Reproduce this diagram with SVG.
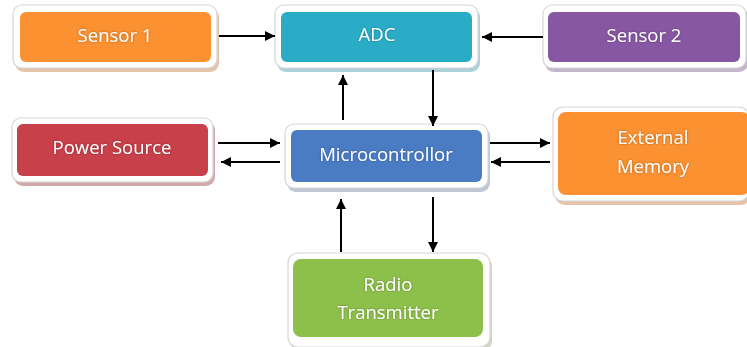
<svg xmlns="http://www.w3.org/2000/svg" width="747" height="347" viewBox="0 0 747 347">
  <defs>
    <marker id="arrow" viewBox="0 0 10 10" refX="10" refY="5" markerWidth="10" markerHeight="10" markerUnits="userSpaceOnUse" orient="auto">
      <path d="M0,0 L10,5 L0,10 z" fill="#000"/>
    </marker>
    <filter id="glow" x="-10%" y="-30%" width="120%" height="160%">
      <feGaussianBlur in="SourceAlpha" stdDeviation="0.8" result="b"/>
      <feFlood flood-color="#000" flood-opacity="0.35"/>
      <feComposite in2="b" operator="in" result="s"/>
      <feMerge><feMergeNode in="s"/><feMergeNode in="SourceGraphic"/></feMerge>
    </filter>
  </defs>
  <style>
    .frame { fill: #fff; stroke: #d6d6d6; stroke-width: 1.2; }
    .shadow { opacity: 0.45; }
    .label { font-family: "Open Sans", "Noto Sans", sans-serif; font-size: 18.5px; fill: #fff; text-anchor: middle; dominant-baseline: central; }
    .link { stroke: #000; stroke-width: 2; fill: none; marker-end: url(#arrow); }
  </style>
  <rect width="747" height="347" fill="#fff"/>

  <g id="sensor1">
    <rect class="shadow" x="15" y="8" width="204" height="64" rx="9" fill="#c87a40"/>
    <rect class="frame" x="13" y="5" width="204" height="63" rx="9"/>
    <rect x="20" y="12" width="191" height="50" rx="6" fill="#fb9131"/>
    <text class="label" x="115" y="34.5" filter="url(#glow)">Sensor 1</text>
  </g>

  <g id="adc">
    <rect class="shadow" x="277" y="8" width="203" height="64" rx="9" fill="#4a9aaa"/>
    <rect class="frame" x="275" y="5" width="203" height="63" rx="9"/>
    <rect x="281" y="12" width="191" height="50" rx="6" fill="#2aacc7"/>
    <text class="label" x="377" y="33.5" filter="url(#glow)">ADC</text>
  </g>

  <g id="sensor2">
    <rect class="shadow" x="545" y="8" width="203" height="64" rx="9" fill="#7a5a8a"/>
    <rect class="frame" x="543" y="5" width="203" height="63" rx="9"/>
    <rect x="548" y="12" width="192" height="50" rx="6" fill="#8757a3"/>
    <text class="label" x="644" y="34.5" filter="url(#glow)">Sensor 2</text>
  </g>

  <g id="power-source">
    <rect class="shadow" x="14" y="121" width="201" height="65" rx="9" fill="#a0404a"/>
    <rect class="frame" x="12" y="118" width="201" height="64" rx="9"/>
    <rect x="17" y="124" width="191" height="52" rx="6" fill="#c8404a"/>
    <text class="label" x="112" y="146.5" filter="url(#glow)">Power Source</text>
  </g>

  <g id="microcontroller">
    <rect class="shadow" x="287" y="127" width="203" height="65" rx="9" fill="#7080a0"/>
    <rect class="frame" x="285" y="124" width="203" height="64" rx="9"/>
    <rect x="291" y="130" width="191" height="52" rx="6" fill="#4a7cc4"/>
    <text class="label" x="386" y="153.5" filter="url(#glow)">Microcontrollor</text>
  </g>

  <g id="external-memory">
    <rect class="shadow" x="555" y="110" width="196" height="95" rx="10" fill="#c87a40"/>
    <rect class="frame" x="553" y="107" width="196" height="94" rx="10"/>
    <rect x="558" y="112" width="192" height="83" rx="8" fill="#fb9131"/>
    <text class="label" x="653" y="136.5" filter="url(#glow)">External</text>
    <text class="label" x="653" y="165.5" filter="url(#glow)">Memory</text>
  </g>

  <g id="radio-transmitter">
    <rect class="shadow" x="290" y="256" width="202" height="95" rx="10" fill="#9aa880"/>
    <rect class="frame" x="288" y="253" width="202" height="94" rx="10"/>
    <rect x="293" y="259" width="190" height="78" rx="8" fill="#8dc04b"/>
    <text class="label" x="388" y="283.5" filter="url(#glow)">Radio</text>
    <text class="label" x="388" y="311.5" filter="url(#glow)">Transmitter</text>
  </g>

  <g id="connectors">
    <line class="link" x1="219" y1="36" x2="275" y2="36"/>
    <line class="link" x1="543" y1="37" x2="482" y2="37"/>
    <line class="link" x1="343" y1="120" x2="343" y2="75"/>
    <line class="link" x1="433" y1="70" x2="433" y2="126"/>
    <line class="link" x1="218" y1="143" x2="280" y2="143"/>
    <line class="link" x1="280" y1="162" x2="221" y2="162"/>
    <line class="link" x1="490" y1="143" x2="550" y2="143"/>
    <line class="link" x1="550" y1="162" x2="491" y2="162"/>
    <line class="link" x1="341" y1="252" x2="341" y2="199"/>
    <line class="link" x1="433" y1="197" x2="433" y2="252"/>
  </g>
</svg>
